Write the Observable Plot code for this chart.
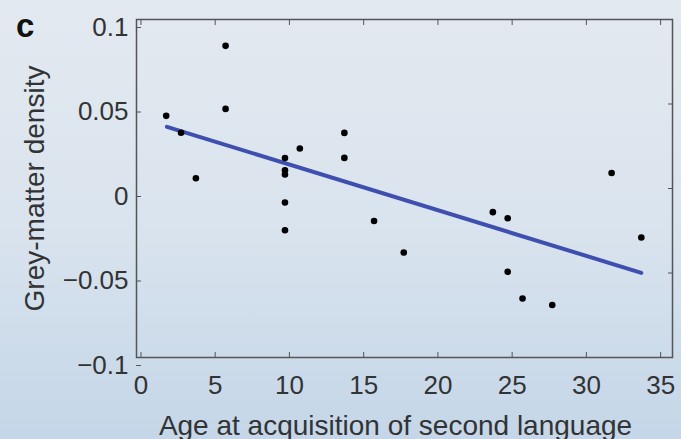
<!DOCTYPE html>
<html>
<head>
<meta charset="utf-8">
<script src="https://cdn.jsdelivr.net/npm/d3@7"></script>
<script src="https://cdn.jsdelivr.net/npm/@observablehq/plot@0.6"></script>
<style>
  html, body { margin: 0; padding: 0; }
  body {
    width: 681px; height: 439px; overflow: hidden;
    background: linear-gradient(to bottom, #e3e9f0 0%, #dae4ee 50%, #c4d6e8 100%);
    font-family: "Liberation Sans", Arial, sans-serif;
  }
  #chart { position: relative; width: 681px; height: 439px; }
  #panel { position: absolute; left: 16px; top: 9px; font-size: 33px; line-height: 33px; font-weight: 900; color: #111; z-index: 2; }
</style>
</head>
<body>
<div id="chart"><div id="panel">c</div></div>
<script>
// Age at acquisition of second language (years) and grey-matter density
const ages = [1.7, 2.7, 3.7, 5.7, 5.7, 9.7, 9.7, 9.7, 9.7, 9.7, 10.7, 13.7, 13.7, 15.7, 17.7, 23.7, 24.7, 24.7, 25.7, 27.7, 31.7, 33.7];
const densities = [0.043, 0.033, 0.0061, 0.0844, 0.0471, 0.0180, 0.0108, 0.0083, -0.0083, -0.0247, 0.0237, 0.0329, 0.0181, -0.0192, -0.0379, -0.0140, -0.0176, -0.0493, -0.0651, -0.0689, 0.0092, -0.0290];
// fitted regression line endpoints
const fitAges = [1.75, 33.7];
const fitDensities = [0.0365, -0.0499];
const xTicks = [0, 5, 10, 15, 20, 25, 30, 35];
const yTicks = [-0.1, -0.05, 0, 0.05, 0.1];
const yTickLabels = ["\u22120.1", "\u22120.05", "0", "0.05", "0.1"];

const points = ages.map((a, i) => ({age: a, density: densities[i]}));
const fit = fitAges.map((a, i) => ({age: a, density: fitDensities[i]}));

const tickColor = "#555";
const textColor = "#333";

const chart = Plot.plot({
  width: 681,
  height: 439,
  marginLeft: 136,
  marginRight: 9,
  marginTop: 19,
  marginBottom: 82,
  style: {background: "transparent", fontFamily: "'Liberation Sans', Arial, sans-serif", fontSize: "26px", color: textColor},
  x: {domain: [-0.3, 35.8]},
  y: {domain: [-0.1, 0.1]},
  marks: [
    Plot.frame({stroke: tickColor, strokeWidth: 1.5}),
    Plot.axisX(xTicks, {anchor: "bottom", tickSize: -5, tickPadding: 23, stroke: tickColor, fill: textColor, fontSize: 26, label: null}),
    Plot.axisX(xTicks, {anchor: "top", tickSize: -5, stroke: tickColor, text: null, label: null}),
    Plot.axisY(yTicks, {anchor: "left", tickSize: -5, tickPadding: 13, dy: 8, stroke: tickColor, fill: textColor, fontSize: 26, label: null,
      tickFormat: (d) => yTickLabels[yTicks.indexOf(d)]}),
    Plot.axisY(yTicks, {anchor: "right", tickSize: -5, stroke: tickColor, text: null, label: null}),
    Plot.text(["Age at acquisition of second language"], {frameAnchor: "bottom", dx: -9, dy: 77, fontSize: 28, fill: textColor, lineAnchor: "bottom"}),
    Plot.text(["Grey-matter density"], {frameAnchor: "left", textAnchor: "middle", lineAnchor: "bottom", dx: -93, rotate: -90, fontSize: 28, fill: textColor}),
    Plot.line(fit, {x: "age", y: "density", stroke: "#3f4fb0", strokeWidth: 4}),
    Plot.dot(points, {x: "age", y: "density", r: 3.3, fill: "#000"})
  ]
});
chart.style.position = "absolute";
chart.style.left = "0";
chart.style.top = "0";
document.getElementById("chart").appendChild(chart);
</script>
</body>
</html>
